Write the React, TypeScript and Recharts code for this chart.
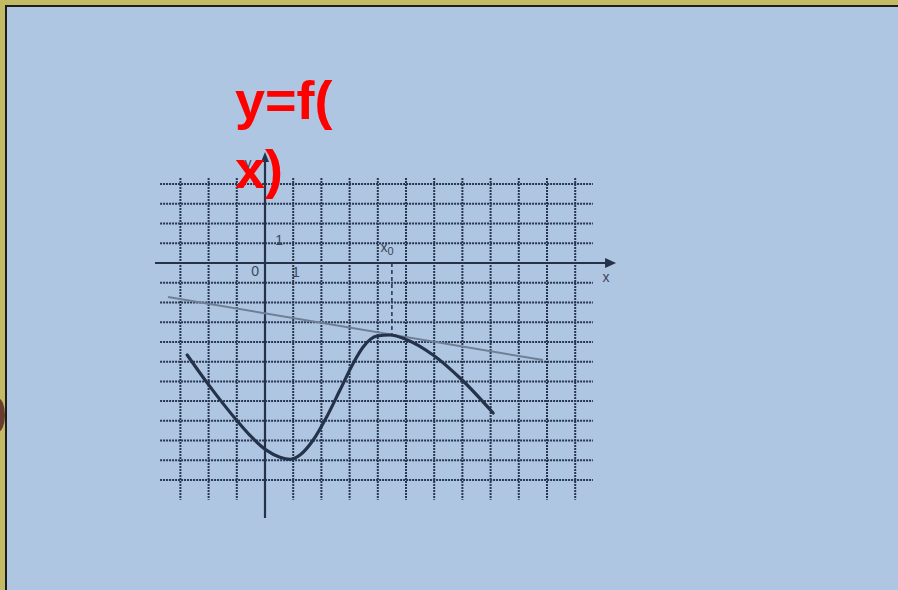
import {
  ComposedChart,
  Line,
  ReferenceDot,
  ReferenceLine,
  XAxis,
  YAxis,
} from "recharts";

// Curve y = f(x) in grid units (1 cell = 1)
const curveX = [
  -2.76, -2.07, -1.48, -1.0, -0.47, 0.06, 0.53, 0.89, 1.24, 1.71, 2.19, 2.66, 3.13, 3.48,
  3.97, 4.43, 4.96, 5.96, 6.99, 8.09,
];
const curveY = [
  -4.66, -6.04, -7.14, -7.98, -8.83, -9.5, -9.85, -9.95, -9.73, -8.97, -7.79, -6.44, -5.08,
  -4.26, -3.7, -3.65, -3.85, -4.66, -5.93, -7.6,
];

// Tangent at x0
const tangentX = [-3.44, 9.86];
const tangentY = [-1.72, -4.92];
const x0 = 4.5;
const fx0 = -3.64;

// Grid cells
const gridXs = [-3, -2, -1, 0, 1, 2, 3, 4, 5, 6, 7, 8, 9, 10, 11];
const gridYs = [4, 3, 2, 1, 0, -1, -2, -3, -4, -5, -6, -7, -8, -9, -10, -11];

// Tick labels near the axes
const tickLabels = [
  { x: -0.35, y: -0.41, text: "0" },
  { x: 1.1, y: -0.46, text: "1" },
  { x: 0.5, y: 1.17, text: "1" },
  { x: 12.09, y: -0.71, text: "x" },
  { x: -0.6, y: 5.07, text: "y" },
];

const W = 898;
const H = 590;
// pixel mapping of the grid: origin (265, 263), 28.2 px per x unit, 19.73 px per y unit
const X_DOMAIN: [number, number] = [-265 / 28.2, (W - 265) / 28.2];
const Y_DOMAIN: [number, number] = [(263 - H) / 19.73, 263 / 19.73];

const GRID = "#283750";
const AXIS = "#25324a";
const LABEL = "#3b4657";

const curveData = curveX.map((x, i) => ({ x, y: curveY[i] }));
const tangentData = tangentX.map((x, i) => ({ x, y: tangentY[i] }));

function ArrowRight(p: any) {
  const { cx, cy } = p;
  return <path d={`M${cx},${cy} L${cx - 11},${cy - 5} L${cx - 11},${cy + 5} Z`} fill={AXIS} />;
}

function ArrowUp(p: any) {
  const { cx, cy } = p;
  return <path d={`M${cx},${cy} L${cx - 4},${cy + 10} L${cx + 4},${cy + 10} Z`} fill={AXIS} />;
}

function TextMark({ cx, cy, text }: any) {
  return (
    <text
      x={cx}
      y={cy}
      textAnchor="middle"
      dominantBaseline="central"
      fontFamily="'Liberation Sans', Arial, sans-serif"
      fontSize={14}
      fill={LABEL}
    >
      {text}
    </text>
  );
}

function X0Mark({ cx, cy }: any) {
  return (
    <text
      x={cx}
      y={cy}
      textAnchor="middle"
      dominantBaseline="central"
      fontFamily="'Liberation Sans', Arial, sans-serif"
      fontSize={14}
      fill={LABEL}
    >
      x
      <tspan fontSize={11} dy={4}>
        0
      </tspan>
    </text>
  );
}

export default function App() {
  return (
    <div
      style={{
        position: "absolute",
        left: 0,
        top: 0,
        width: W,
        height: H,
        overflow: "hidden",
        background: "#c3ba66",
      }}
    >
      <div
        style={{
          position: "absolute",
          left: 5,
          top: 5,
          right: 0,
          bottom: 0,
          background: "#afc6e3",
          borderLeft: "2px solid #1d1d1b",
          borderTop: "2px solid #1d1d1b",
        }}
      />
      <div
        style={{
          position: "absolute",
          left: -9,
          top: 398,
          width: 14,
          height: 34,
          borderRadius: "50%",
          background: "#6b3d2c",
        }}
      />
      <div style={{ position: "absolute", left: 0, top: 0 }}>
        <ComposedChart width={W} height={H} margin={{ top: 0, right: 0, bottom: 0, left: 0 }}>
          <XAxis type="number" dataKey="x" domain={X_DOMAIN} allowDataOverflow hide />
          <YAxis type="number" dataKey="y" domain={Y_DOMAIN} allowDataOverflow hide />
          {gridYs.map((y) => (
            <ReferenceLine
              key={`h${y}`}
              segment={[
                { x: -3.72, y },
                { x: 11.63, y },
              ]}
              stroke={GRID}
              strokeWidth={2}
              strokeDasharray="2 1"
            />
          ))}
          {gridXs.map((x) => (
            <ReferenceLine
              key={`v${x}`}
              segment={[
                { x, y: 4.31 },
                { x, y: -12 },
              ]}
              stroke={GRID}
              strokeWidth={2}
              strokeDasharray="2 1"
            />
          ))}
          <ReferenceLine
            segment={[
              { x: -3.9, y: 0 },
              { x: 12.1, y: 0 },
            ]}
            stroke={AXIS}
            strokeWidth={2.2}
          />
          <ReferenceLine
            segment={[
              { x: 0, y: 5.2 },
              { x: 0, y: -12.92 },
            ]}
            stroke={AXIS}
            strokeWidth={2.2}
          />
          <ReferenceDot x={12.45} y={0} shape={ArrowRight} />
          <ReferenceDot x={0} y={5.63} shape={ArrowUp} />
          <ReferenceLine
            segment={[
              { x: x0, y: 0 },
              { x: x0, y: fx0 },
            ]}
            stroke={AXIS}
            strokeWidth={1.5}
            strokeDasharray="4 3"
          />
          <Line
            data={tangentData}
            dataKey="y"
            type="linear"
            stroke="#6e7f96"
            strokeWidth={2}
            dot={false}
            activeDot={false}
            isAnimationActive={false}
          />
          <Line
            data={curveData}
            dataKey="y"
            type="monotone"
            stroke="#24334a"
            strokeWidth={3.2}
            strokeLinecap="round"
            dot={false}
            activeDot={false}
            isAnimationActive={false}
          />
          {tickLabels.map((t, i) => (
            <ReferenceDot
              key={i}
              x={t.x}
              y={t.y}
              shape={(p: any) => <TextMark {...p} text={t.text} />}
            />
          ))}
          <ReferenceDot x={4.33} y={0.81} shape={X0Mark} />
        </ComposedChart>
      </div>
      <div
        style={{
          position: "absolute",
          left: 235,
          top: 66,
          fontFamily: "'Liberation Sans', Arial, sans-serif",
          fontWeight: "bold",
          fontSize: 54,
          lineHeight: "69px",
          color: "#ff0000",
          whiteSpace: "nowrap",
        }}
      >
        y=f(
        <br />
        x)
      </div>
    </div>
  );
}
